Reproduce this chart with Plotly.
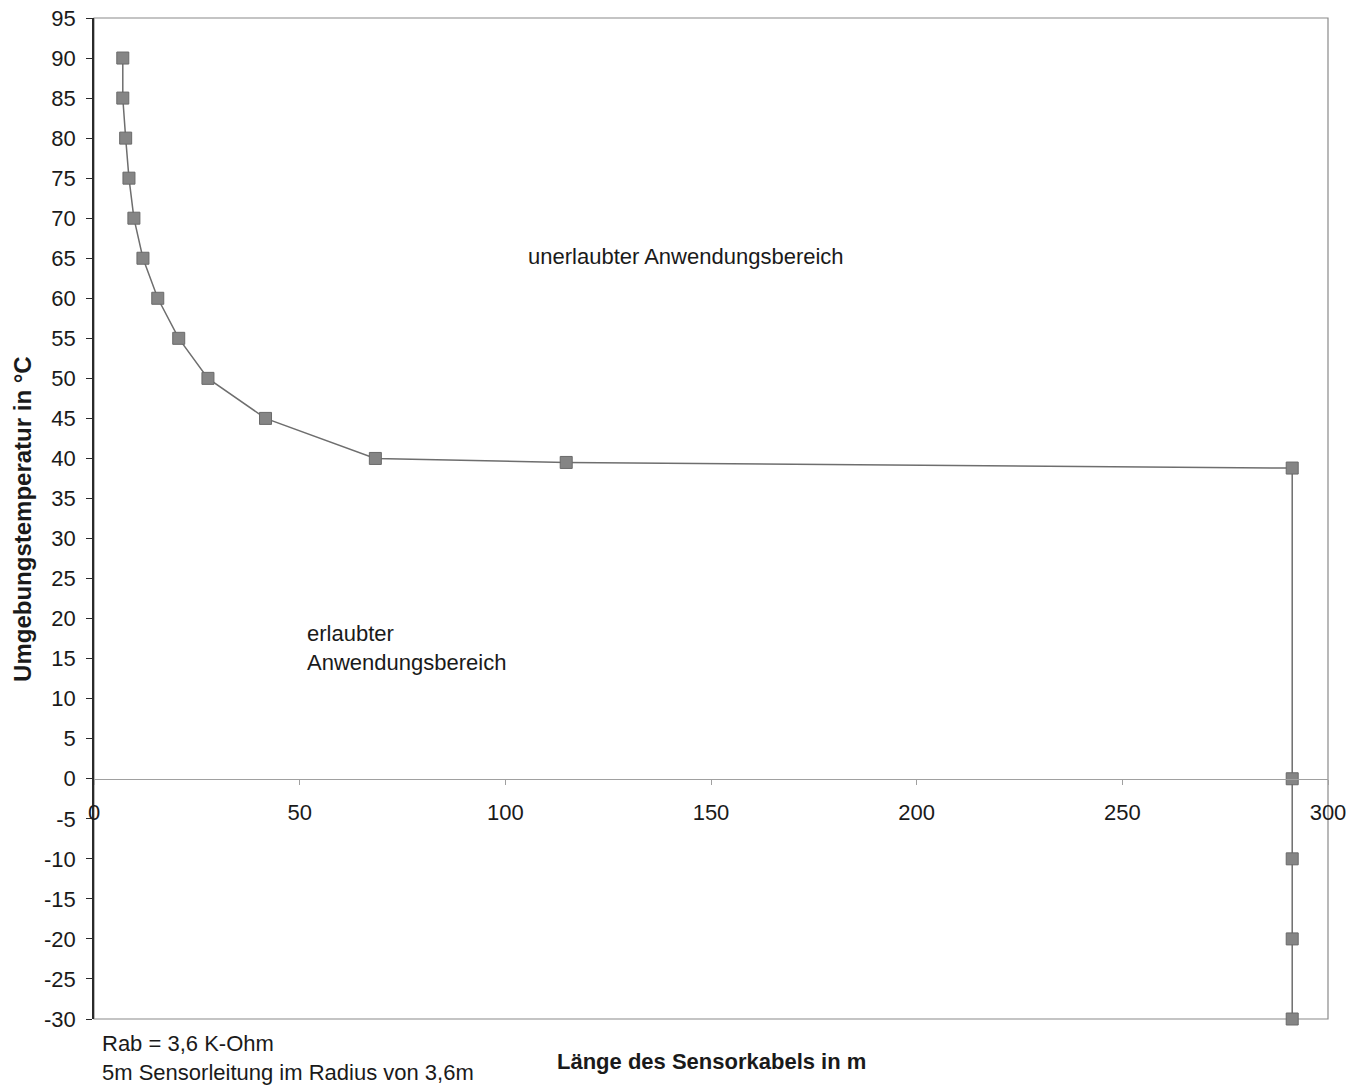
import plotly.graph_objects as go

# Data
laenge_m = [7.0, 7.0, 7.7, 8.5, 9.7, 11.9, 15.5, 20.6, 27.7, 41.7, 68.4, 114.8,
            291.3, 291.3, 291.3, 291.3, 291.3]
temperatur_c = [90, 85, 80, 75, 70, 65, 60, 55, 50, 45, 40, 39.5,
                38.8, 0, -10, -20, -30]
x_ticks = [0, 50, 100, 150, 200, 250, 300]
y_ticks = list(range(-30, 96, 5))

FONT = "Liberation Sans, Arial, sans-serif"
TXT = "#1a1a1a"

fig = go.Figure()
fig.add_trace(go.Scatter(
    x=laenge_m, y=temperatur_c, mode="lines+markers",
    line=dict(color="#6e6e6e", width=1.5),
    marker=dict(symbol="square", size=12, color="#858585",
                line=dict(color="#6a6a6a", width=1)),
    showlegend=False, cliponaxis=False,
))

fig.update_layout(
    width=1364, height=1086,
    margin=dict(l=94, r=36, t=18, b=67, autoexpand=False),
    paper_bgcolor="white", plot_bgcolor="white",
    font=dict(family=FONT, size=22, color=TXT),
    xaxis=dict(
        range=[0, 300], tickvals=x_ticks, ticktext=[str(v) for v in x_ticks],
        anchor="free", position=30 / 125, automargin=False,
        showline=True, linecolor="#a0a0a0", linewidth=1.2,
        ticks="outside", ticklen=5, tickcolor="#a0a0a0",
        ticklabelstandoff=9,
        showgrid=False, zeroline=False,
        tickfont=dict(size=22, family=FONT, color=TXT),
    ),
    yaxis=dict(
        range=[-30.0001, 95.0001], tickvals=y_ticks,
        ticktext=[str(v) for v in y_ticks], automargin=False,
        showline=True, linecolor="#2a2a2a", linewidth=1.5,
        ticks="outside", ticklen=6, tickcolor="#2a2a2a",
        ticklabelstandoff=6,
        showgrid=False, zeroline=False,
        tickfont=dict(size=22, family=FONT, color=TXT),
    ),
)

# plot frame (top, right, bottom)
fig.add_shape(type="rect", xref="paper", yref="paper", x0=0, y0=0, x1=1, y1=1,
              line=dict(color="#8a8a8a", width=1.2), layer="below")

fig.add_annotation(x=144, y=65.2, text="unerlaubter Anwendungsbereich",
                   showarrow=False, font=dict(size=22, family=FONT, color=TXT))
fig.add_annotation(x=51.2, y=16.3, text="erlaubter<br>Anwendungsbereich",
                   showarrow=False, xanchor="left", align="left",
                   font=dict(size=22, family=FONT, color=TXT))

fig.add_annotation(xref="paper", yref="paper", x=0.005, y=-0.024,
                   text="Rab = 3,6 K-Ohm", showarrow=False,
                   xanchor="left", yanchor="middle",
                   font=dict(size=22, family=FONT, color=TXT))
fig.add_annotation(xref="paper", yref="paper", x=0.005, y=-0.053,
                   text="5m Sensorleitung im Radius von 3,6m", showarrow=False,
                   xanchor="left", yanchor="middle",
                   font=dict(size=22, family=FONT, color=TXT))
fig.add_annotation(xref="paper", yref="paper", x=0.5, y=-0.042,
                   text="<b>Länge des Sensorkabels in m</b>", showarrow=False,
                   xanchor="center", yanchor="middle",
                   font=dict(size=22, family=FONT, color=TXT))
fig.add_annotation(xref="paper", yref="paper", x=-0.058, y=0.5,
                   text="<b>Umgebungstemperatur in °C</b>", showarrow=False,
                   textangle=-90, xanchor="center", yanchor="middle",
                   font=dict(size=24, family=FONT, color=TXT))

fig.write_html(
    "out.html",
    config={"displayModeBar": False},
    post_script="document.body.style.margin='0';document.body.style.overflow='hidden';",
)
